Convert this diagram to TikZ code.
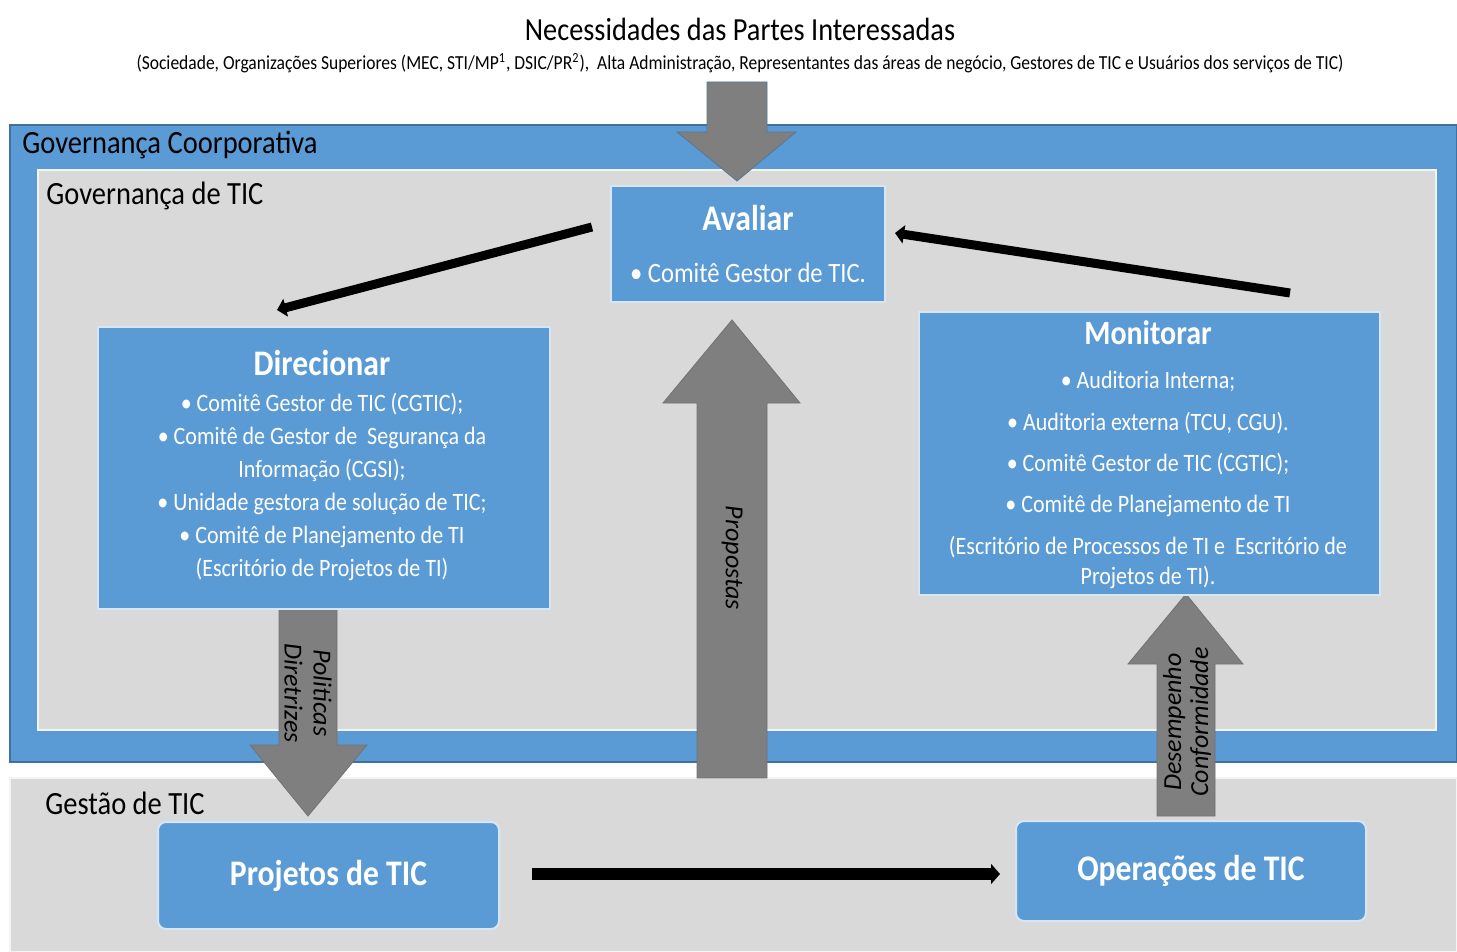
\documentclass[tikz,border=0pt]{standalone}
\usepackage{fontspec}
\setmainfont{Carlito}[FakeStretch=0.88]
\newfontfamily\labfont{Carlito}
\usetikzlibrary{arrows.meta,calc}
\definecolor{blu}{HTML}{5B9BD5}
\definecolor{blud}{HTML}{41719C}
\definecolor{gr}{HTML}{D9D9D9}
\definecolor{ag}{HTML}{7F7F7F}
\newcommand{\fs}[2]{\fontsize{#1}{#2}\selectfont}
\begin{document}
\begin{tikzpicture}[x=0.5pt,y=-0.5pt,
  region/.style={anchor=north west,inner sep=0pt,outer sep=0pt},
  bluebox/.style={fill=blu,draw=white!75!blu,line width=1pt,inner sep=0pt,outer sep=0pt},
  rbox/.style={bluebox,rounded corners=4pt},
  boxtitle/.style={text=white,font=\fs{18}{22}\bfseries,inner sep=0pt},
  boxbody/.style={text=white,align=center,inner sep=0pt},
  arealabel/.style={anchor=west,font=\fs{16.2}{19},inner sep=0pt},
  blockarrow/.style={fill=ag,draw=ag!90!black,line width=0.4pt},
  arrowlabel/.style={font=\labfont\itshape\fs{13}{14.5},align=center,inner sep=0pt},
  flow/.style={line width=4.5pt,-{Triangle[length=4.5pt,width=9pt]}},
]
\useasboundingbox (0,0) rectangle (1457,952);
\fill[white] (0,0) rectangle (1457,952);

% header
\node[font=\fs{16.1}{19},inner sep=0pt] (title) at (740,29) {Necessidades das Partes Interessadas};
\node[font=\fs{9.95}{11},inner sep=0pt] (sub) at (740,63) {(Sociedade, Organizações Superiores (MEC, STI/MP\textsuperscript{1}, DSIC/PR\textsuperscript{2}),\ \ Alta Administração, Representantes das áreas de negócio, Gestores de TIC e Usuários dos serviços de TIC)};

% regions
\node[region,fill=blu,draw=blud,line width=0.8pt,minimum width=723.5pt,minimum height=318.5pt] (corp) at (10,125) {};
\node[region,fill=gr,draw=white!70!gr,line width=0.8pt,minimum width=699pt,minimum height=280pt] (gov) at (38,170) {};
\node[region,fill=gr,draw=white!70!gr,line width=0.8pt,minimum width=723.5pt,minimum height=87pt] (gest) at (10,778) {};

\node[arealabel] (lcorp) at (22,145) {Governança Coorporativa};
\node[arealabel] (lgov) at (46,196) {Governança de TIC};
\node[arealabel] (lgest) at (45,803) {Gestão de TIC};

% gray block arrows
\draw[blockarrow,draw=blud!60!ag] (707,82) -- (767,82) -- (767,132) -- (796,132) -- (737,181) -- (677,132) -- (707,132) -- cycle;
\draw[blockarrow] (697,778) -- (767,778) -- (767,403) -- (800,403) -- (732,320) -- (663,403) -- (697,403) -- cycle;
\draw[blockarrow] (279,607) -- (337,607) -- (337,745) -- (367,745) -- (308,816) -- (250,745) -- (279,745) -- cycle;
\draw[blockarrow] (1157,816) -- (1215,816) -- (1215,664) -- (1243,664) -- (1186,594) -- (1128,664) -- (1157,664) -- cycle;

% boxes
\node[bluebox,minimum width=137pt,minimum height=58pt] (aval) at (748,244) {};
\node[boxtitle] (avalt) at (748,218) {Avaliar};
\node[boxbody,font=\fs{14}{17}] (avalb) at (748,273) {• Comitê Gestor de TIC.};

\node[bluebox,minimum width=226pt,minimum height=141pt] (dir) at (324,468) {};
\node[boxtitle] (dirt) at (322,363) {Direcionar};
\node[boxbody,font=\fs{12.5}{16.5}] (dirb) at (322,487) {• Comitê Gestor de TIC (CGTIC);\\
• Comitê de Gestor de\ \ Segurança da\\
Informação (CGSI);\\
• Unidade gestora de solução de TIC;\\
• Comitê de Planejamento de TI\\
(Escritório de Projetos de TI)};

\node[bluebox,minimum width=230.5pt,minimum height=141.5pt] (mon) at (1149.5,453.5) {};
\node[boxtitle,font=\fs{17}{21}\bfseries] (mont) at (1148,333) {Monitorar};
\node[boxbody,font=\fs{12.5}{15}] (monb) at (1148,480) {• Auditoria Interna;\\[5.65pt]
• Auditoria externa (TCU, CGU).\\[5.65pt]
• Comitê Gestor de TIC (CGTIC);\\[5.65pt]
• Comitê de Planejamento de TI\\[5.65pt]
(Escritório de Processos de TI e\ \ Escritório de\\
Projetos de TI).};

\node[rbox,minimum width=170.5pt,minimum height=53.5pt,text=white,font=\fs{18}{22}\bfseries] (proj) at (328.5,875.5) {Projetos de TIC};
\node[rbox,minimum width=175pt,minimum height=50pt,text=white,font=\fs{18}{22}\bfseries] (oper) at (1191,871) {Operações de TIC};

% arrow labels
\node[arrowlabel,rotate=-90] (lprop) at (732,558) {Propostas};
\node[arrowlabel,rotate=-90] (lpol) at (308,693) {Politicas\\Diretrizes};
\node[arrowlabel,rotate=90,font=\labfont\itshape\fs{13}{13.5}] (ldes) at (1187,722) {Desempenho\\Conformidade};

% black flow arrows
\coordinate (a1s) at ($(aval.west)+(-19,-17)$);
\coordinate (a1e) at ($(dir.north west)+(179,-17)$);
\coordinate (a2s) at ($(mon.north east)+(-90,-19)$);
\coordinate (a2e) at ($(aval.east)+(10,-11)$);
\coordinate (a3s) at ($(proj.east)+(33,-1.5)$);
\coordinate (a3e) at ($(oper.west)+(-16,3)$);
\draw[flow] (a1s) -- (a1e);
\draw[flow] (a2s) -- (a2e);
\draw[flow,line width=6pt,-{Triangle[length=4.5pt,width=10pt]}] (a3s) -- (a3e);
\end{tikzpicture}
\end{document}
